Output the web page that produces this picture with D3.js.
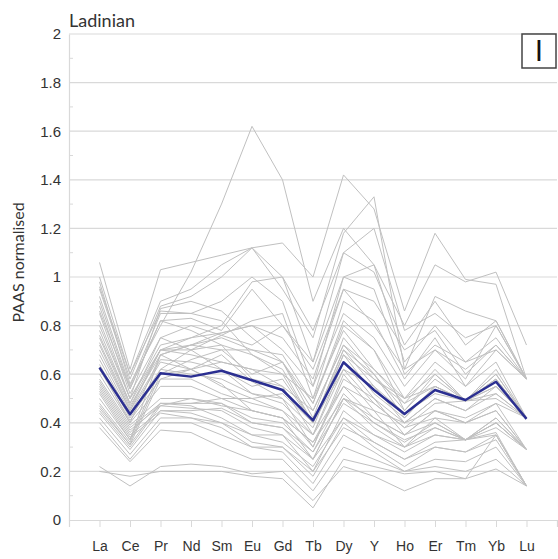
<!DOCTYPE html>
<html>
<head>
	<meta charset="utf-8">
	<title>Ladinian REE</title>
	<script type="text/javascript" src="https://cdn.jsdelivr.net/npm/d3@7"></script>
	<style>
		body {
			font-family: Lato, "Open Sans", sans-serif;
			margin: 0;
			background: #fff;
		}
	</style>
</head>

<body>

	<div id="chart"></div>

	<script>

		// customization

		const elements = ["La", "Ce", "Pr", "Nd", "Sm", "Eu", "Gd", "Tb", "Dy", "Y", "Ho", "Er", "Tm", "Yb", "Lu"];
		const yTicks = [0, 0.2, 0.4, 0.6, 0.8, 1, 1.2, 1.4, 1.6, 1.8, 2];

		// mean pattern (blue)
		const mean = [0.627, 0.435, 0.604, 0.59, 0.614, 0.575, 0.535, 0.41, 0.649, 0.535, 0.436, 0.535, 0.494, 0.569, 0.416];

		// individual samples (grey)
		const samples = [
			[0.98, 0.56, 0.80, 1.02, 1.30, 1.62, 1.40, 0.90, 1.20, 1.05, 0.80, 1.05, 0.98, 1.02, 0.72],
			[1.06, 0.62, 1.03, 1.06, 1.09, 1.12, 1.14, 1.00, 1.42, 1.28, 0.86, 1.18, 0.99, 0.97, 0.58],
			[1.00, 0.60, 0.90, 0.95, 1.05, 1.12, 0.95, 0.75, 1.18, 1.33, 0.62, 0.92, 0.86, 0.82, 0.58],
			[0.95, 0.58, 0.88, 0.92, 1.00, 1.12, 1.00, 0.65, 1.10, 1.20, 0.78, 0.85, 0.75, 0.80, 0.58],
			[0.92, 0.55, 0.85, 0.85, 0.90, 1.00, 0.90, 0.55, 1.00, 1.05, 0.65, 0.80, 0.65, 0.75, 0.58],
			[0.90, 0.54, 0.82, 0.83, 0.78, 0.95, 0.80, 0.62, 0.95, 0.90, 0.70, 0.78, 0.60, 0.72, 0.58],
			[0.88, 0.52, 0.75, 0.80, 0.76, 0.82, 0.85, 0.50, 0.90, 0.82, 0.58, 0.75, 0.55, 0.70, 0.58],
			[0.85, 0.50, 0.72, 0.75, 0.77, 0.80, 0.70, 0.55, 0.85, 0.75, 0.55, 0.70, 0.58, 0.80, 0.58],
			[0.80, 0.50, 0.70, 0.72, 0.75, 0.70, 0.68, 0.48, 0.80, 0.70, 0.50, 0.65, 0.55, 0.65, 0.42],
			[0.78, 0.48, 0.70, 0.70, 0.72, 0.68, 0.60, 0.50, 0.78, 0.62, 0.48, 0.62, 0.49, 0.62, 0.42],
			[0.75, 0.47, 0.68, 0.72, 0.70, 0.60, 0.65, 0.42, 0.75, 0.60, 0.45, 0.58, 0.49, 0.60, 0.42],
			[0.73, 0.46, 0.70, 0.68, 0.65, 0.62, 0.55, 0.45, 0.72, 0.58, 0.50, 0.55, 0.49, 0.55, 0.42],
			[0.70, 0.45, 0.66, 0.65, 0.62, 0.55, 0.58, 0.40, 0.70, 0.55, 0.44, 0.52, 0.49, 0.58, 0.42],
			[0.68, 0.44, 0.65, 0.62, 0.68, 0.57, 0.50, 0.38, 0.68, 0.52, 0.42, 0.55, 0.49, 0.55, 0.42],
			[0.66, 0.43, 0.62, 0.60, 0.58, 0.52, 0.48, 0.35, 0.65, 0.50, 0.40, 0.50, 0.45, 0.52, 0.42],
			[0.64, 0.42, 0.60, 0.62, 0.55, 0.50, 0.52, 0.40, 0.62, 0.48, 0.38, 0.48, 0.49, 0.50, 0.42],
			[0.62, 0.41, 0.58, 0.58, 0.52, 0.48, 0.45, 0.30, 0.60, 0.45, 0.40, 0.45, 0.42, 0.48, 0.42],
			[0.60, 0.40, 0.55, 0.55, 0.50, 0.45, 0.42, 0.32, 0.55, 0.42, 0.35, 0.45, 0.40, 0.45, 0.29],
			[0.58, 0.39, 0.50, 0.50, 0.48, 0.42, 0.40, 0.28, 0.52, 0.40, 0.32, 0.40, 0.33, 0.42, 0.29],
			[0.57, 0.38, 0.48, 0.48, 0.48, 0.40, 0.38, 0.25, 0.50, 0.38, 0.30, 0.38, 0.33, 0.40, 0.29],
			[0.56, 0.37, 0.47, 0.46, 0.45, 0.38, 0.35, 0.20, 0.45, 0.35, 0.28, 0.35, 0.33, 0.38, 0.29],
			[0.55, 0.36, 0.48, 0.47, 0.42, 0.35, 0.32, 0.22, 0.42, 0.32, 0.25, 0.32, 0.33, 0.36, 0.14],
			[0.54, 0.35, 0.45, 0.44, 0.40, 0.32, 0.30, 0.18, 0.40, 0.30, 0.22, 0.30, 0.28, 0.35, 0.14],
			[0.53, 0.34, 0.44, 0.42, 0.38, 0.30, 0.28, 0.15, 0.35, 0.28, 0.20, 0.25, 0.24, 0.30, 0.14],
			[0.52, 0.33, 0.68, 0.72, 0.77, 0.80, 0.75, 0.58, 0.95, 0.80, 0.62, 0.70, 0.62, 0.72, 0.58],
			[0.50, 0.33, 0.62, 0.70, 0.76, 0.72, 0.80, 0.65, 1.00, 0.95, 0.60, 0.72, 0.65, 0.70, 0.58],
			[0.48, 0.32, 0.60, 0.66, 0.70, 0.70, 0.65, 0.45, 0.72, 0.62, 0.50, 0.60, 0.49, 0.58, 0.42],
			[0.47, 0.31, 0.58, 0.62, 0.65, 0.62, 0.60, 0.40, 0.68, 0.58, 0.48, 0.55, 0.49, 0.52, 0.42],
			[0.46, 0.31, 0.48, 0.48, 0.50, 0.50, 0.45, 0.35, 0.55, 0.48, 0.38, 0.42, 0.40, 0.45, 0.29],
			[0.45, 0.30, 0.47, 0.50, 0.47, 0.45, 0.42, 0.32, 0.50, 0.42, 0.35, 0.40, 0.33, 0.42, 0.29],
			[0.44, 0.29, 0.45, 0.45, 0.46, 0.40, 0.38, 0.28, 0.48, 0.40, 0.33, 0.38, 0.33, 0.40, 0.29],
			[0.42, 0.27, 0.42, 0.42, 0.40, 0.35, 0.35, 0.25, 0.42, 0.35, 0.30, 0.35, 0.33, 0.35, 0.14],
			[0.40, 0.25, 0.40, 0.40, 0.35, 0.30, 0.30, 0.20, 0.38, 0.32, 0.25, 0.30, 0.28, 0.33, 0.14],
			[0.38, 0.24, 0.37, 0.36, 0.30, 0.25, 0.25, 0.12, 0.30, 0.25, 0.20, 0.22, 0.20, 0.25, 0.14],
			[0.22, 0.14, 0.22, 0.23, 0.22, 0.19, 0.20, 0.08, 0.22, 0.18, 0.12, 0.17, 0.17, 0.21, 0.14],
			[0.20, 0.18, 0.20, 0.20, 0.20, 0.18, 0.17, 0.05, 0.25, 0.22, 0.19, 0.20, 0.17, 0.35, 0.14],
			[0.82, 0.50, 0.87, 0.90, 0.86, 0.75, 0.65, 0.48, 0.82, 0.70, 0.45, 0.60, 0.49, 0.60, 0.42],
			[0.96, 0.60, 0.86, 0.85, 0.82, 0.68, 0.62, 0.40, 0.70, 0.60, 0.42, 0.55, 0.49, 0.58, 0.42],
			[0.86, 0.54, 0.82, 0.78, 0.72, 0.58, 0.55, 0.35, 0.62, 0.55, 0.40, 0.50, 0.45, 0.55, 0.42],
			[0.76, 0.48, 0.75, 0.70, 0.62, 0.52, 0.50, 0.30, 0.58, 0.50, 0.35, 0.45, 0.40, 0.48, 0.29],
			[0.63, 0.40, 0.68, 0.62, 0.56, 0.45, 0.42, 0.25, 0.50, 0.45, 0.30, 0.42, 0.33, 0.40, 0.29],
			[0.72, 0.45, 0.70, 0.75, 0.80, 0.98, 1.00, 0.78, 1.10, 1.02, 0.72, 0.90, 0.72, 0.82, 0.58],
		];

		const width      = 558;
		const height     = 559;
		const title      = "Ladinian";
		const panelLabel = "I";
		const yLabel     = "PAAS normalised";
		const textColor  = "#333";
		const gridColor  = "#d9d9d9";

		// customization

		const marginTop = 34, marginRight = 1, marginBottom = 39, marginLeft = 69;

		const x = d3.scalePoint()
			.domain(elements)
			.range([marginLeft, width - marginRight])
			.padding(1);

		const y = d3.scaleLinear()
			.domain([0, 2])
			.range([height - marginBottom, marginTop]);

		const svg = d3.select("#chart")
			.append("svg")
			.attr("width", width)
			.attr("height", height)
			.attr("viewBox", [0, 0, width, height])
			.style("font-family", "Lato, 'Open Sans', sans-serif");

		svg.append("rect")
			.attr("width", width)
			.attr("height", height)
			.attr("fill", "#fff");

		// grid lines
		svg.append("g")
			.selectAll("line")
			.data(yTicks.filter(d => d > 0))
			.join("line")
			.attr("x1", marginLeft)
			.attr("x2", width - marginRight)
			.attr("y1", d => y(d))
			.attr("y2", d => y(d))
			.attr("stroke", gridColor)
			.attr("stroke-width", 1.2);

		// y axis
		svg.append("g")
			.attr("transform", `translate(${marginLeft},0)`)
			.call(d3.axisLeft(y).tickValues(yTicks).tickFormat(d3.format("")).tickSize(0).tickPadding(8))
			.call(g => g.select(".domain").attr("stroke", gridColor).attr("stroke-width", 1.2))
			.call(g => g.selectAll(".tick text")
				.attr("fill", textColor)
				.style("font-size", "15px"));

		// minor ticks
		svg.append("g")
			.selectAll("line")
			.data(d3.range(1, 20, 2).map(d => d / 10))
			.join("line")
			.attr("x1", marginLeft)
			.attr("x2", marginLeft + 4)
			.attr("y1", d => y(d))
			.attr("y2", d => y(d))
			.attr("stroke", gridColor);

		// x axis
		svg.append("g")
			.attr("transform", `translate(0,${height - marginBottom})`)
			.call(d3.axisBottom(x).tickSize(7).tickPadding(14))
			.call(g => g.select(".domain").attr("stroke", gridColor).attr("stroke-width", 1.2))
			.call(g => g.selectAll(".tick line").attr("stroke", gridColor))
			.call(g => g.selectAll(".tick text")
				.attr("fill", textColor)
				.style("font-size", "14px"));

		const line = d3.line()
			.x((d, i) => x(elements[i]))
			.y(d => y(d));

		svg.append("g")
			.selectAll("path")
			.data(samples)
			.join("path")
			.attr("fill", "none")
			.attr("stroke", "#c0c0c0")
			.attr("stroke-width", 1)
			.attr("d", line);

		svg.append("path")
			.attr("fill", "none")
			.attr("stroke", "#2b2f91")
			.attr("stroke-width", 2.5)
			.attr("stroke-linejoin", "round")
			.attr("d", line(mean));

		// title
		svg.append("text")
			.attr("x", marginLeft)
			.attr("y", 27)
			.attr("fill", textColor)
			.style("font-size", "18px")
			.text(title);

		// panel label box
		const box = svg.append("g")
			.attr("transform", `translate(${width - marginRight - 35},${marginTop})`);
		box.append("rect")
			.attr("width", 34)
			.attr("height", 34)
			.attr("fill", "#fff")
			.attr("stroke", "#444")
			.attr("stroke-width", 1.5);
		box.append("text")
			.attr("x", 17)
			.attr("y", 27)
			.attr("text-anchor", "middle")
			.attr("fill", "#111")
			.style("font-size", "28px")
			.text(panelLabel);

		// y label
		svg.append("text")
			.attr("transform", `translate(24,${y(1.06)}) rotate(-90)`)
			.attr("text-anchor", "middle")
			.attr("fill", textColor)
			.style("font-size", "16px")
			.text(yLabel);

	</script>

</body>

</html>
